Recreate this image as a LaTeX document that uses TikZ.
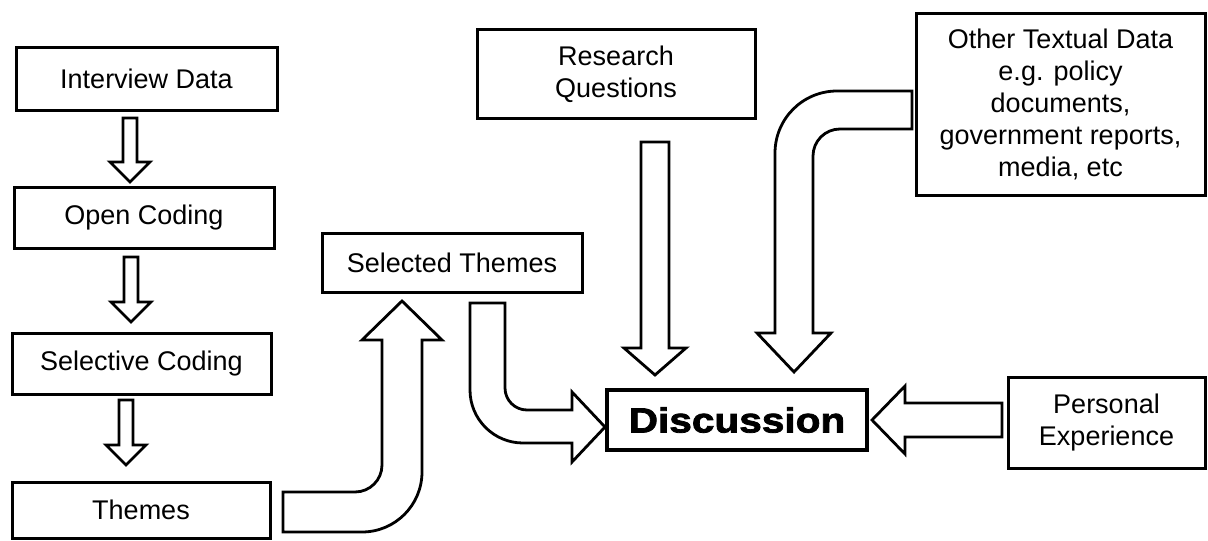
\documentclass[tikz,border=0pt]{standalone}
\usepackage{fontspec}
\setmainfont{Liberation Sans}
\newfontfamily\discfont{Liberation Sans}[FakeStretch=1.16, BoldFeatures={FakeBold=2.2}]
\usetikzlibrary{calc}
\begin{document}
\begin{tikzpicture}[x=0.5pt, y=-0.5pt,
    box/.style={draw=black, line width=1.5pt, outer sep=0pt, align=center, inner sep=2pt, font=\fontsize{13.5}{16}\selectfont},
    blk/.style={draw=black, fill=white, line width=1.4pt, line join=miter}]
 \useasboundingbox (0,0) rectangle (1208,540);
 \begin{scope}
        \node[box, minimum width=130.5pt, minimum height=31pt] (intv) at (146.5,79) {Interview Data};
        \node[box, minimum width=130pt, minimum height=30.5pt] (open) at (144,217.5) {Open Coding};
        \node[box, minimum width=129.5pt, minimum height=30.5pt] (selc) at (141.5,363.5) {Selective Coding};
        \node[box, minimum width=129pt, minimum height=28pt] (them) at (141,510) {Themes};
        \node[box, minimum width=130pt, minimum height=29.5pt] (selth) at (452,262.5) {Selected Themes};
        \node[box, minimum width=139pt, minimum height=44pt] (resq) at (616,74) {Research\\Questions};
        \node[box, line width=1.7pt, minimum width=130pt, minimum height=30pt] (disc) at (737,420) {\discfont\fontsize{17.5}{20}\selectfont\bfseries Discussion};
        \node[box, minimum width=144.5pt, minimum height=90.5pt] (other) at (1060.5,104.5) {Other Textual Data\\e.g. policy\\documents,\\government reports,\\media, etc};
        \node[box, minimum width=98.5pt, minimum height=45.5pt] (pers) at (1106.5,422.5) {Personal\\Experience};
        \draw[blk] ($(intv.south)+(-23.5,8)$) -- ++(14,0) -- ++(0,44) -- ++(13,0) -- ++(-20,20) -- ++(-20,-20) -- ++(13,0) -- cycle;
        \draw[blk] ($(open.south)+(-20,9)$) -- ++(14,0) -- ++(0,45) -- ++(13,0) -- ++(-20,20) -- ++(-20,-20) -- ++(13,0) -- cycle;
        \draw[blk] ($(selc.south)+(-22.5,6)$) -- ++(14,0) -- ++(0,45) -- ++(13,0) -- ++(-20,20) -- ++(-20,-20) -- ++(13,0) -- cycle;
        \draw[blk] ($(them.east)+(13,-18)$) -- ++(72,0) arc(90:0:27) -- ++(0,-125) -- ++(-20,0) -- ++(40,-39) -- ++(40,39) -- ++(-20,0) -- ++(0,132) arc(0:90:60) -- ++(-79,0) -- cycle;
        \draw[blk] ($(selth.south)+(18,11)$) -- ++(35,0) -- ++(0,85) arc(180:90:22) -- ++(45,0) -- ++(0,-18) -- ++(33,35) -- ++(-33,35) -- ++(0,-19) -- ++(-49,0) arc(90:180:53) -- cycle;
        \draw[blk] ($(resq.south)+(25,24)$) -- ++(28,0) -- ++(0,206) -- ++(17,0) -- ++(-31,27) -- ++(-31,-27) -- ++(17,0) -- cycle;
        \draw[blk] ($(other.west)+(-4,-13.5)$) -- ++(-75,0) arc(270:180:62) -- ++(0,180) -- ++(-18,0) -- ++(37,39) -- ++(37,-39) -- ++(-18,0) -- ++(0,-177) arc(180:270:27) -- ++(72,0) -- cycle;
        \draw[blk] ($(pers.west)+(-6,-19.5)$) -- ++(-97,0) -- ++(0,-17) -- ++(-33,34) -- ++(33,34) -- ++(0,-17) -- ++(97,0) -- cycle;
    \end{scope}
\end{tikzpicture}
\end{document}
